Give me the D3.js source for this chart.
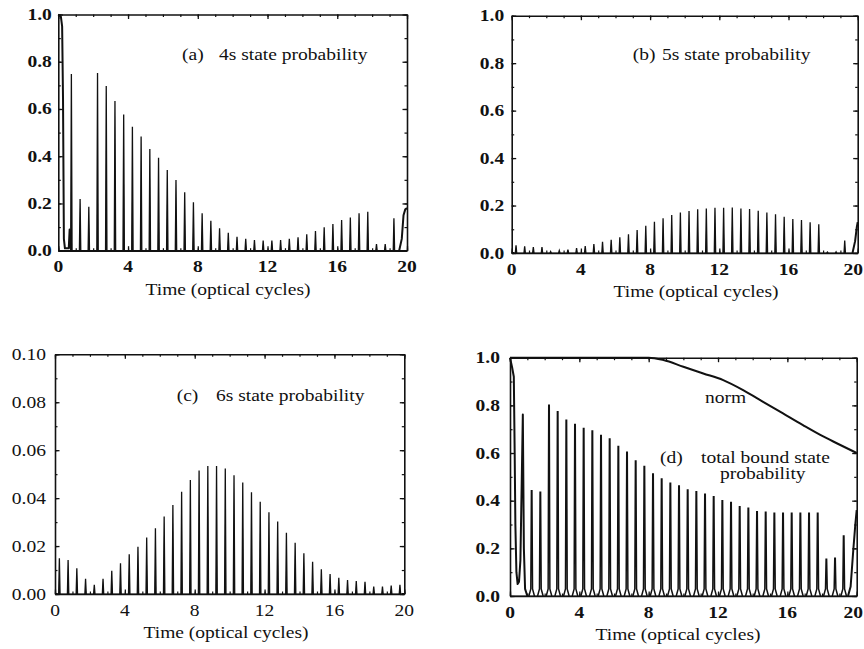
<!DOCTYPE html>
<html>
<head>
<meta charset="utf-8">
<script src="https://cdn.jsdelivr.net/npm/d3@7"></script>
<style>
  html, body { margin: 0; padding: 0; background: #fff; }
  svg { display: block; }
</style>
</head>
<body>
<svg id="chart" width="864" height="649"></svg>
<script>
// Time of each probability spike: twice per optical cycle, 0.25 ... 19.75
const spikeTimes = d3.range(40).map(k => 0.25 + 0.5 * k);

// (a) 4s state probability: spike heights (null = covered by the onset trace)
const peaks4s = [null, 0.748, 0.219, 0.186, 0.752, 0.697, 0.634, 0.577, 0.525, 0.483,
  0.431, 0.394, 0.342, 0.299, 0.247, 0.205, 0.158, 0.127, 0.095, 0.076,
  0.059, 0.050, 0.045, 0.043, 0.043, 0.045, 0.050, 0.057, 0.069, 0.083,
  0.099, 0.113, 0.130, 0.141, 0.158, 0.165, 0.028, 0.028, 0.137, null];
const onset4s = [[0, 1.0], [0.15, 0.99], [0.22, 0.95], [0.27, 0.65], [0.32, 0.05], [0.38, 0.01],
  [0.6, 0.01], [0.65, 0.09], [0.7, 0.01]];
const tail4s = [[19.55, 0.0], [19.7, 0.05], [19.8, 0.15], [19.9, 0.175], [20, 0.18]];

// (b) 5s state probability
const peaks5s = [0.032, 0.028, 0.025, 0.025, 0.006, 0.010, 0.014, 0.021, 0.029, 0.038,
  0.047, 0.056, 0.066, 0.079, 0.097, 0.115, 0.132, 0.146, 0.160, 0.171,
  0.177, 0.184, 0.188, 0.191, 0.191, 0.192, 0.188, 0.185, 0.178, 0.171,
  0.163, 0.153, 0.143, 0.139, 0.129, 0.121, 0.004, 0.005, 0.053, null];
const onset5s = [[0, 0.0], [0.15, 0.0]];
const tail5s = [[19.7, 0.0], [19.85, 0.05], [19.95, 0.11], [20, 0.13]];

// (c) 6s state probability
const peaks6s = [0.0149, 0.0142, 0.0107, 0.0063, 0.0038, 0.0063, 0.0097, 0.0128, 0.0166, 0.0197,
  0.0236, 0.0274, 0.0323, 0.0371, 0.0427, 0.0476, 0.0515, 0.0534, 0.0534, 0.0524,
  0.0495, 0.0465, 0.0424, 0.0385, 0.0341, 0.0302, 0.0256, 0.0214, 0.0170, 0.0135,
  0.0103, 0.0083, 0.0068, 0.0058, 0.0054, 0.0051, 0.0031, 0.0031, 0.0035, 0.0038];
const onset6s = [[0, 0.0], [0.15, 0.0]];
const tail6s = [[19.85, 0.0], [20, 0.0]];

// (d) total bound state probability
const peaksBound = [null, null, 0.442, 0.435, 0.800, 0.773, 0.738, 0.720, 0.703, 0.692,
  0.673, 0.659, 0.627, 0.603, 0.566, 0.543, 0.512, 0.491, 0.473, 0.462,
  0.445, 0.438, 0.427, 0.417, 0.400, 0.392, 0.375, 0.368, 0.354, 0.351,
  0.347, 0.347, 0.347, 0.347, 0.347, 0.347, 0.154, 0.158, 0.252, null];
const onsetBound = [[0, 1.0], [0.12, 0.96], [0.22, 0.92], [0.27, 0.6], [0.31, 0.3], [0.37, 0.1],
  [0.44, 0.05], [0.52, 0.06], [0.6, 0.15], [0.67, 0.45], [0.74, 0.762], [0.8, 0.2],
  [0.87, 0.03], [1.0, 0.0]];
const tailBound = [[19.5, 0.0], [19.65, 0.04], [19.8, 0.19], [19.92, 0.3], [20, 0.36]];

// Wavefunction norm, shown with panel (d)
const normCurve = [[0, 1.0], [8, 1.0], [8.85, 0.99], [10, 0.962], [11.15, 0.934], [12.3, 0.906],
  [13.45, 0.864], [14.6, 0.815], [15.75, 0.766], [16.9, 0.717], [17.9, 0.676],
  [18.85, 0.641], [20, 0.6]];

const xTickLabels = [0, 4, 8, 12, 16, 20];

// spike outline: [time offset, fraction-of-peak, absolute lift] triples
const narrowSpike = [[-0.04, 0, 0], [0, 1, 0], [0.04, 0, 0]];
const flaredSpike = [[-0.16, 0, 0], [-0.05, 0, 0.03], [-0.015, 1, 0], [0.015, 1, 0], [0.05, 0, 0.03], [0.16, 0, 0]];

const panels = [
  { box: [58.3, 14.5, 407, 250.7], yMax: 1.0, yMajor: 0.2, yMinor: 0.1, fmt: ".1f", bold: true,
    peaks: peaks4s, onset: onset4s, tail: tail4s, shape: narrowSpike, fill: true, yGap: 6.5, titleX: 228,
    labels: [["(a)", 182, 60], ["4s state probability", 219, 60]] },
  { box: [511.7, 15.7, 857.7, 253], yMax: 1.0, yMajor: 0.2, yMinor: 0.1, fmt: ".1f", bold: true,
    peaks: peaks5s, onset: onset5s, tail: tail5s, shape: narrowSpike, fill: true, yGap: 7.5, titleX: 696,
    labels: [["(b)", 632.7, 60], ["5s state probability", 662, 60]] },
  { box: [55, 354.3, 404.3, 594], yMax: 0.10, yMajor: 0.02, yMinor: 0.01, fmt: ".2f", bold: false,
    peaks: peaks6s, onset: onset6s, tail: tail6s, shape: narrowSpike, fill: true, yGap: 9, titleX: 226,
    labels: [["(c)", 176.7, 401], ["6s state probability", 216, 401]] },
  { box: [510, 357.7, 856.7, 596], yMax: 1.0, yMajor: 0.2, yMinor: 0.1, fmt: ".1f", bold: true,
    peaks: peaksBound, onset: onsetBound, tail: tailBound, shape: flaredSpike, fill: false, yGap: 10, titleX: 678,
    norm: normCurve,
    labels: [["(d)", 660, 462.7], ["total bound state", 701, 462.7], ["probability", 720, 479],
             ["norm", 705, 403]] }
];

const svg = d3.select("#chart");
const FONT = "'Liberation Serif', 'Times New Roman', serif";
const SX = 1.22; // the serif face is set slightly wide
const W = 864;

function label(g, x, y, str, opts = {}) {
  return g.append("text")
    .attr("transform", `translate(${x},${y}) scale(${SX},1)`)
    .attr("text-anchor", opts.anchor || "start")
    .attr("font-family", FONT)
    .attr("font-size", opts.size || 16)
    .attr("font-weight", opts.bold ? "bold" : "normal")
    .attr("fill", "#111")
    .text(str);
}

panels.forEach(p => {
  const [x0, y0, x1, y1] = p.box;
  const x = d3.scaleLinear().domain([0, 20]).range([x0, x1]);
  const y = d3.scaleLinear().domain([0, p.yMax]).range([y1, y0]);
  const g = svg.append("g");

  const line = d3.line().x(d => x(d[0])).y(d => y(d[1]));
  const liftScale = p.yMax; // lift is given as a fraction of the axis range

  // spikes
  const spikes = spikeTimes
    .map((t, i) => ({ t, v: p.peaks[i] }))
    .filter(d => d.v != null);
  g.append("g")
    .selectAll("path")
    .data(spikes)
    .join("path")
    .attr("d", d => line(p.shape.map(([dt, f, lift]) => [d.t + dt, f * d.v + lift * liftScale])))
    .attr("fill", p.fill ? "#111" : "none")
    .attr("stroke", "#111")
    .attr("stroke-width", p.fill ? 1.3 : 1.5)
    .attr("stroke-linejoin", "miter");

  // baseline, onset and tail traces
  g.append("path").attr("d", line([[0, 0], [20, 0]]))
    .attr("fill", "none").attr("stroke", "#111").attr("stroke-width", 1.2);
  [p.onset, p.tail].forEach(seg => {
    g.append("path").attr("d", line(seg))
      .attr("fill", "none").attr("stroke", "#111").attr("stroke-width", 2)
      .attr("stroke-linejoin", "round");
  });

  if (p.norm) {
    const smooth = d3.line().x(d => x(d[0])).y(d => y(d[1])).curve(d3.curveMonotoneX);
    g.append("path").attr("d", smooth(p.norm))
      .attr("fill", "none").attr("stroke", "#111").attr("stroke-width", 2);
  }

  // frame with inward ticks on all sides
  const minorY = d3.range(Math.round(p.yMax / p.yMinor) + 1).map(i => i * p.yMinor);
  const majorY = d3.range(Math.round(p.yMax / p.yMajor) + 1).map(i => i * p.yMajor);
  const minorX = d3.range(21);

  const axes = [
    [d3.axisBottom(x), `translate(0,${y1})`, minorX, xTickLabels],
    [d3.axisTop(x), `translate(0,${y0})`, minorX, xTickLabels],
    [d3.axisLeft(y), `translate(${x0},0)`, minorY, majorY],
    [d3.axisRight(y), `translate(${x1},0)`, minorY, majorY]
  ];
  axes.forEach(([ax, tr, minor, major]) => {
    g.append("g").attr("transform", tr)
      .call(ax.tickValues(minor).tickSize(-2.5).tickFormat(""))
      .call(s => s.select(".domain").remove())
      .call(s => s.selectAll("line").attr("stroke", "#111").attr("stroke-width", 1.2));
    g.append("g").attr("transform", tr)
      .call(ax.tickValues(major).tickSize(-4.5).tickSizeOuter(0).tickFormat(""))
      .call(s => s.select(".domain").attr("stroke", "#111").attr("stroke-width", 1.6))
      .call(s => s.selectAll("line").attr("stroke", "#111").attr("stroke-width", 1.3));
  });

  // tick labels
  const fy = d3.format(p.fmt);
  majorY.forEach(v => label(g, x0 - p.yGap, y(v) + 5.5, fy(v), { anchor: "end", bold: p.bold }));
  xTickLabels.forEach(v => {
    const tx = x(v);
    // keep the last label inside the page edge
    if (tx + 12 > W) label(g, W - 1, y1 + 21.5, String(v), { anchor: "end", bold: p.bold });
    else label(g, tx, y1 + 21.5, String(v), { anchor: "middle", bold: p.bold });
  });

  // axis title and panel annotations
  label(g, p.titleX, y1 + 44, "Time (optical cycles)", { anchor: "middle" });
  p.labels.forEach(([s, lx, ly]) => label(g, lx, ly, s));
});
</script>
</body>
</html>
